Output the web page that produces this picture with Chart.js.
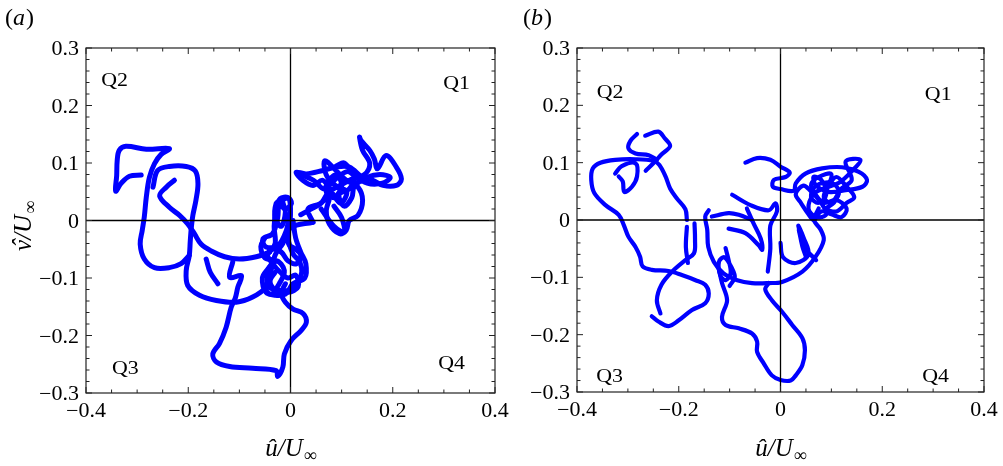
<!DOCTYPE html>
<html>
<head>
<meta charset="utf-8">
<script src="https://cdn.jsdelivr.net/npm/chart.js@4.4.0/dist/chart.umd.min.js"></script>
<style>
html, body { margin: 0; padding: 0; background: #fff; }
#wrap { position: relative; width: 1003px; height: 466px; overflow: hidden; }
#ca { position: absolute; left: 0; top: 0; }
#cb { position: absolute; left: 500px; top: 0; }
</style>
</head>
<body>
<div id="wrap">
  <canvas id="ca" width="520" height="466"></canvas>
  <canvas id="cb" width="503" height="466"></canvas>
</div>
<script>
// axis ticks
var xTickLabels = [-0.4, -0.2, 0, 0.2, 0.4];
var yTickLabels = [-0.3, -0.2, -0.1, 0, 0.1, 0.2, 0.3];

// quadrant labels (data units)
var quadNames = ['Q1', 'Q2', 'Q3', 'Q4'];
var quadPosA = [[0.325, 0.24], [-0.344, 0.245], [-0.323, -0.256], [0.315, -0.247]];
var quadPosB = [[0.31, 0.221], [-0.335, 0.224], [-0.336, -0.272], [0.305, -0.272]];

/*=============================================
=  panel (a) trajectory, u/U vs v/U            =
=============================================*/
var a1 = [[-0.292,0.079],[-0.315,0.077],[-0.331,0.065],[-0.342,0.051],[-0.340,0.078],[-0.339,0.104],[-0.335,0.122],[-0.322,0.129],[-0.282,0.124],[-0.237,0.125],[-0.253,0.115],[-0.266,0.099],[-0.276,0.075],[-0.282,0.041],[-0.286,0.006],[-0.290,-0.017],[-0.294,-0.041],[-0.286,-0.067],[-0.266,-0.082],[-0.237,-0.082],[-0.214,-0.075],[-0.198,-0.061]];
var a2 = [[-0.269,0.058],[-0.260,0.087],[-0.237,0.094],[-0.204,0.094],[-0.186,0.086],[-0.181,0.064],[-0.185,0.035],[-0.191,0.009],[-0.194,-0.012],[-0.196,-0.035],[-0.198,-0.061],[-0.204,-0.087],[-0.201,-0.113],[-0.178,-0.130],[-0.145,-0.139],[-0.106,-0.142],[-0.074,-0.133],[-0.048,-0.116],[-0.041,-0.095]];
var a3 = [[-0.227,0.070],[-0.243,0.058],[-0.256,0.043],[-0.237,0.023],[-0.217,0.009],[-0.201,-0.006],[-0.188,-0.023],[-0.175,-0.041],[-0.155,-0.053],[-0.129,-0.063],[-0.100,-0.067],[-0.067,-0.063],[-0.041,-0.055]];
var a4 = [[-0.165,-0.067],[-0.157,-0.090],[-0.142,-0.110]];
var a5 = [[-0.113,-0.072],[-0.119,-0.099],[-0.096,-0.096],[-0.103,-0.116],[-0.108,-0.135],[-0.116,-0.151],[-0.126,-0.186],[-0.139,-0.214],[-0.152,-0.232],[-0.145,-0.246],[-0.119,-0.254],[-0.074,-0.257],[-0.028,-0.261],[-0.025,-0.271],[-0.015,-0.255],[-0.012,-0.232],[0.001,-0.209],[0.021,-0.191],[0.031,-0.177],[0.025,-0.162],[0.005,-0.154],[-0.010,-0.142],[-0.018,-0.127],[-0.010,-0.110]];
var a6 = [[-0.041,-0.055],[-0.030,-0.040],[-0.032,-0.010],[-0.028,0.020],[-0.020,0.038],[-0.005,0.040],[0.002,0.030],[-0.010,0.020],[-0.022,0.028],[-0.025,0.005],[-0.035,-0.023],[-0.054,-0.032],[-0.048,-0.046],[-0.025,-0.044],[-0.008,-0.017],[-0.002,0.012],[-0.005,-0.029],[0.005,-0.058],[0.018,-0.072],[0.022,-0.090],[0.015,-0.105],[0.003,-0.120],[-0.015,-0.122],[-0.041,-0.116],[-0.044,-0.087],[-0.028,-0.070],[-0.012,-0.087],[-0.022,-0.110],[-0.038,-0.128],[-0.048,-0.120],[-0.040,-0.095],[-0.030,-0.060],[-0.015,-0.040],[0.001,-0.012],[0.044,-0.003]];
var a7 = [[0.044,-0.003],[0.034,0.020],[0.057,0.029],[0.076,0.041],[0.070,0.017],[0.076,-0.006],[0.096,-0.023],[0.109,-0.017],[0.115,0.000],[0.132,0.009],[0.141,0.035],[0.132,0.058],[0.109,0.070],[0.089,0.087],[0.067,0.104],[0.070,0.079],[0.089,0.060],[0.110,0.050],[0.098,0.030],[0.080,0.050],[0.063,0.070],[0.044,0.061],[0.024,0.070],[0.011,0.084],[0.031,0.081],[0.063,0.087],[0.089,0.093],[0.115,0.093],[0.141,0.075],[0.161,0.070],[0.181,0.061],[0.207,0.061],[0.217,0.072],[0.207,0.093],[0.187,0.113],[0.170,0.090],[0.164,0.107],[0.155,0.122],[0.138,0.139],[0.135,0.145],[0.141,0.122],[0.155,0.099],[0.145,0.080],[0.120,0.072],[0.095,0.060],[0.075,0.050],[0.060,0.030],[0.040,0.020],[0.020,0.010]];
var a8 = [[-0.020,0.035],[-0.028,0.030],[-0.030,0.005],[-0.018,-0.010],[-0.010,0.015],[-0.015,0.035],[-0.003,0.038],[0.000,0.010],[-0.004,-0.040],[0.010,-0.050],[0.020,-0.060],[0.012,-0.075],[-0.005,-0.070],[-0.018,-0.055],[-0.035,-0.050],[-0.045,-0.060],[-0.035,-0.075],[-0.020,-0.090],[-0.005,-0.100],[0.010,-0.095],[0.015,-0.115],[-0.005,-0.125],[-0.030,-0.120],[-0.040,-0.105],[-0.030,-0.090]];
var a9 = [[0.020,0.080],[0.045,0.070],[0.065,0.055],[0.075,0.070],[0.090,0.080],[0.100,0.060],[0.085,0.040],[0.070,0.050],[0.080,0.065],[0.110,0.085],[0.125,0.075],[0.115,0.055],[0.095,0.045],[0.105,0.025],[0.120,0.040],[0.125,0.060],[0.150,0.075],[0.175,0.080],[0.195,0.075],[0.180,0.065],[0.150,0.065],[0.125,0.080],[0.105,0.100],[0.090,0.095]];
var a10 = [[0.060,0.020],[0.085,-0.010],[0.105,-0.020],[0.100,0.005],[0.085,0.025]];
var a11 = [[-0.050,-0.030],[-0.058,-0.045],[-0.050,-0.065],[-0.030,-0.070],[-0.045,-0.085],[-0.055,-0.100],[-0.048,-0.125],[-0.030,-0.130],[-0.010,-0.128],[0.005,-0.110],[0.028,-0.100],[0.030,-0.075],[0.020,-0.055],[0.010,-0.030],[0.005,0.000]];

/*=============================================
=  panel (b) trajectory                        =
=============================================*/
var b1 = [[-0.184,0.000],[-0.187,0.019],[-0.204,0.038],[-0.217,0.055],[-0.226,0.076],[-0.238,0.096],[-0.249,0.103],[-0.285,0.106],[-0.325,0.105],[-0.354,0.100],[-0.369,0.090],[-0.372,0.070],[-0.366,0.047],[-0.344,0.026],[-0.318,0.009],[-0.308,-0.009],[-0.299,-0.029],[-0.285,-0.047],[-0.276,-0.064],[-0.271,-0.081],[-0.253,-0.087],[-0.220,-0.089],[-0.194,-0.096],[-0.167,-0.105],[-0.148,-0.113],[-0.141,-0.128],[-0.148,-0.145],[-0.174,-0.157],[-0.200,-0.175],[-0.220,-0.185],[-0.240,-0.177],[-0.253,-0.168]];
var b2 = [[-0.236,-0.163],[-0.243,-0.140],[-0.234,-0.113],[-0.213,-0.090],[-0.187,-0.070],[-0.170,-0.058],[-0.168,-0.035],[-0.169,-0.006]];
var b3 = [[-0.282,0.150],[-0.295,0.138],[-0.299,0.125],[-0.285,0.116],[-0.259,0.113],[-0.243,0.105]];
var b4 = [[-0.266,0.147],[-0.240,0.154],[-0.228,0.143],[-0.217,0.129],[-0.233,0.115],[-0.249,0.100],[-0.265,0.086]];
var b5 = [[-0.325,0.081],[-0.312,0.094],[-0.285,0.099],[-0.282,0.076],[-0.292,0.058],[-0.307,0.049],[-0.310,0.067],[-0.318,0.076]];
var b6 = [[-0.184,-0.012],[-0.186,-0.047],[-0.182,-0.075]];
var b7 = [[-0.141,0.017],[-0.148,0.006],[-0.144,-0.017],[-0.142,-0.047],[-0.131,-0.073],[-0.112,-0.093],[-0.085,-0.105],[-0.056,-0.110],[-0.023,-0.110],[0.003,-0.108],[0.043,-0.090],[0.069,-0.064],[0.085,-0.035],[0.079,-0.017],[0.066,0.000],[0.075,0.020]];
var b8 = [[-0.056,0.000],[-0.082,0.009],[-0.102,0.012],[-0.135,0.006]];
var b9 = [[-0.095,0.044],[-0.059,0.026],[-0.023,0.017],[-0.010,0.029],[-0.007,0.015],[-0.020,-0.010],[-0.020,-0.050],[-0.025,-0.090]];
var b10 = [[-0.102,-0.015],[-0.069,-0.023],[-0.043,-0.044],[-0.036,-0.052],[-0.039,-0.032],[-0.053,-0.006],[-0.066,0.020]];
var b11 = [[-0.108,-0.049],[-0.102,-0.070],[-0.098,-0.093],[-0.108,-0.105],[-0.118,-0.097],[-0.121,-0.073],[-0.110,-0.065],[-0.095,-0.085],[-0.090,-0.100],[-0.100,-0.115]];
var b12 = [[-0.121,-0.087],[-0.115,-0.110],[-0.105,-0.140],[-0.115,-0.169],[-0.108,-0.183],[-0.082,-0.189],[-0.056,-0.198],[-0.046,-0.212],[-0.046,-0.230],[-0.033,-0.250],[-0.017,-0.271],[0.000,-0.279],[0.020,-0.280],[0.030,-0.271],[0.043,-0.253],[0.048,-0.227],[0.043,-0.206],[0.023,-0.183],[0.003,-0.160],[-0.017,-0.140],[-0.030,-0.121],[-0.023,-0.110]];
var b13 = [[0.000,-0.040],[0.005,-0.065],[0.030,-0.075],[0.055,-0.060],[0.045,-0.030],[0.035,-0.010],[0.050,-0.050],[0.070,-0.070]];
var b14 = [[0.036,-0.017],[0.043,-0.046],[0.050,-0.064]];
var b15 = [[-0.069,0.100],[-0.046,0.108],[-0.020,0.105],[0.000,0.093],[0.018,0.083],[0.010,0.075],[-0.013,0.070],[-0.015,0.058],[0.000,0.054],[0.026,0.051],[0.030,0.064],[0.049,0.081],[0.082,0.090],[0.121,0.092],[0.154,0.084],[0.170,0.070],[0.161,0.058],[0.128,0.052],[0.095,0.049],[0.070,0.060],[0.065,0.075],[0.080,0.070],[0.090,0.045],[0.075,0.030],[0.060,0.040],[0.070,0.060],[0.100,0.065],[0.115,0.050],[0.105,0.030],[0.090,0.020],[0.110,0.015],[0.130,0.030],[0.145,0.040],[0.128,0.060],[0.110,0.075],[0.095,0.060],[0.085,0.040],[0.100,0.030],[0.120,0.055],[0.140,0.070],[0.128,0.102],[0.157,0.105],[0.140,0.085],[0.115,0.065],[0.085,0.055],[0.065,0.045],[0.055,0.020],[0.070,0.005],[0.090,0.010],[0.080,0.030],[0.060,0.060],[0.075,0.075],[0.100,0.080],[0.090,0.050]];
var b16 = [[0.040,0.030],[0.055,0.010],[0.065,0.000],[0.080,0.015],[0.100,0.010],[0.120,0.005],[0.130,0.020],[0.110,0.035],[0.085,0.030],[0.060,0.050],[0.045,0.060],[0.030,0.045],[0.040,0.030]];

var BLUE = '#0000ff';
var SERIF = '"Liberation Serif", "DejaVu Serif", serif';

function txt(ctx, s, x, y, font, align, sx) {
    ctx.save();
    ctx.translate(x, y);
    ctx.scale(sx || 1, 1);
    ctx.font = font;
    ctx.textAlign = align || 'left';
    ctx.textBaseline = 'alphabetic';
    ctx.fillStyle = '#000';
    ctx.fillText(s, 0, 0);
    ctx.restore();
}

function fmt(v) {
    if (Math.abs(v) < 1e-9) return '0';
    return (v < 0 ? '\u2212' : '') + Math.abs(v).toFixed(1);
}

// "û/U∞" style title, centred on cx
function drawRatio(ctx, base, cx, y) {
    var fMain = 'italic 25px ' + SERIF, fSub = '18px ' + SERIF;
    ctx.font = fMain;
    var w1 = ctx.measureText(base + '/U').width;
    ctx.font = fSub;
    var w2 = ctx.measureText('\u221e').width;
    var x0 = cx - (w1 + w2) / 2;
    if (base === 'v') {
        ctx.font = fMain;
        var wv = ctx.measureText('v').width;
        txt(ctx, 'v', x0, y, fMain);
        txt(ctx, '\u02c6', x0 + wv / 2 + 2, y - 1, fMain, 'center');
        txt(ctx, '/U', x0 + wv, y, fMain);
    } else {
        txt(ctx, base + '/U', x0, y, fMain);
    }
    txt(ctx, '\u221e', x0 + w1 + 1, y + 5, fSub);
}

function decor(opts) {
    return {
        id: 'decor',
        afterDraw: function(chart) {
            var ctx = chart.ctx, a = chart.chartArea;
            var xs = chart.scales.x, ys = chart.scales.y;
            ctx.save();

            // zero lines
            ctx.strokeStyle = '#000';
            ctx.lineWidth = 1.3;
            ctx.beginPath();
            ctx.moveTo(xs.getPixelForValue(0), a.top);
            ctx.lineTo(xs.getPixelForValue(0), a.bottom);
            ctx.moveTo(a.left, ys.getPixelForValue(0));
            ctx.lineTo(a.right, ys.getPixelForValue(0));
            ctx.stroke();

            // frame
            ctx.strokeStyle = '#222';
            ctx.lineWidth = 1.2;
            ctx.strokeRect(a.left, a.top, a.right - a.left, a.bottom - a.top);

            // inward ticks on all four sides
            ctx.lineWidth = 1;
            ctx.beginPath();
            for (var i = -8; i <= 8; i++) {
                var px = xs.getPixelForValue(i * 0.05);
                var len = (i % 4 === 0) ? 6 : 3.5;
                ctx.moveTo(px, a.bottom); ctx.lineTo(px, a.bottom - len);
                ctx.moveTo(px, a.top); ctx.lineTo(px, a.top + len);
            }
            for (var j = -15; j <= 15; j++) {
                var py = ys.getPixelForValue(j * 0.02);
                var len2 = (j % 5 === 0) ? 6 : 3.5;
                ctx.moveTo(a.left, py); ctx.lineTo(a.left + len2, py);
                ctx.moveTo(a.right, py); ctx.lineTo(a.right - len2, py);
            }
            ctx.stroke();

            // tick labels
            var tf = '20px ' + SERIF;
            xTickLabels.forEach(function(v) {
                txt(ctx, fmt(v), xs.getPixelForValue(v), a.bottom + 24, tf, 'center', 1.1);
            });
            yTickLabels.forEach(function(v) {
                txt(ctx, fmt(v), a.left - 7, ys.getPixelForValue(v) + 7, tf, 'right', 1.1);
            });

            // quadrant labels
            var qf = '19px ' + SERIF;
            opts.quads.forEach(function(p, k) {
                txt(ctx, quadNames[k], xs.getPixelForValue(p[0]), ys.getPixelForValue(p[1]) + 6.5, qf, 'center', 1.15);
            });

            // axis titles
            drawRatio(ctx, '\u00fb', xs.getPixelForValue(0), 456);
            if (opts.yTitle) {
                ctx.save();
                ctx.translate(31, (a.top + a.bottom) / 2 + 6);
                ctx.rotate(-Math.PI / 2);
                drawRatio(ctx, 'v', 0, 0);
                ctx.restore();
            }

            // panel letter
            var pf = '24px ' + SERIF, pi = 'italic 24px ' + SERIF;
            var x0 = opts.letterX;
            ctx.font = pf;
            var wp = ctx.measureText('(').width;
            ctx.font = pi;
            var wl = ctx.measureText(opts.letter).width;
            txt(ctx, '(', x0, 25, pf);
            txt(ctx, opts.letter, x0 + wp, 25, pi);
            txt(ctx, ')', x0 + wp + wl + 1, 25, pf);

            ctx.restore();
        }
    };
}

function makePanel(id, segments, lineWidth, pad, opts) {
    return new Chart(document.getElementById(id), {
        type: 'scatter',
        data: {
            datasets: segments.map(function(seg) {
                return {
                    data: seg.map(function(p) { return { x: p[0], y: p[1] }; }),
                    showLine: true,
                    borderColor: BLUE,
                    backgroundColor: BLUE,
                    borderWidth: lineWidth,
                    pointRadius: 0,
                    tension: 0.35,
                    borderCapStyle: 'round',
                    borderJoinStyle: 'round'
                };
            })
        },
        options: {
            responsive: false,
            animation: false,
            devicePixelRatio: 1,
            layout: { padding: pad },
            plugins: { legend: { display: false }, tooltip: { enabled: false } },
            scales: {
                x: { type: 'linear', min: -0.4, max: 0.4, display: false },
                y: { type: 'linear', min: -0.3, max: 0.3, display: false }
            }
        },
        plugins: [decor(opts)]
    });
}

makePanel('ca', [a1, a2, a3, a4, a5, a6, a7, a8, a9, a10, a11], 5,
    { left: 86, right: 25, top: 48, bottom: 73 },
    { quads: quadPosA, yTitle: true, letter: 'a', letterX: 5 });

makePanel('cb', [b1, b2, b3, b4, b5, b6, b7, b8, b9, b10, b11, b12, b13, b14, b15, b16], 4.2,
    { left: 77, right: 19, top: 48, bottom: 74 },
    { quads: quadPosB, yTitle: false, letter: 'b', letterX: 23 });
</script>
</body>
</html>
